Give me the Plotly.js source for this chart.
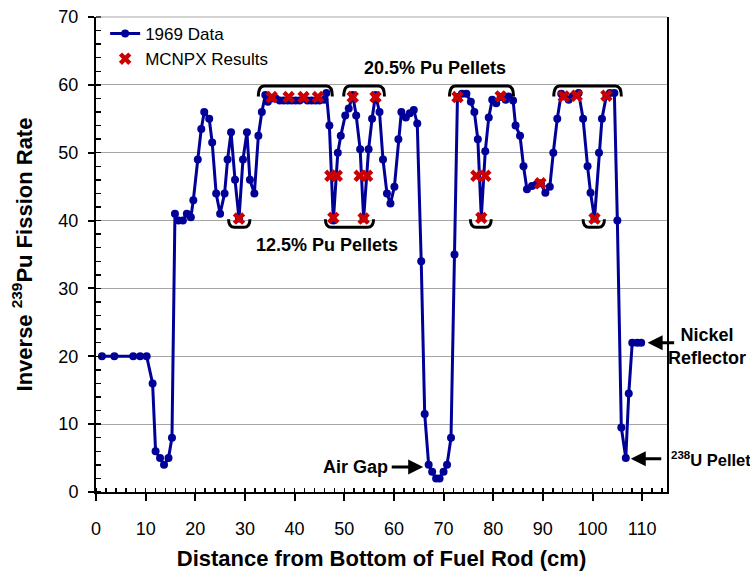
<!DOCTYPE html>
<html>
<head>
<meta charset="utf-8">
<script src="https://cdn.plot.ly/plotly-3.0.1.min.js"></script>
<style>html,body{margin:0;padding:0;background:#fff;}#chart{width:750px;height:573px;}</style>
</head>
<body>
<div id="chart"></div>
<script>
// 1969 measured data: distance (cm) and inverse 239Pu fission rate
const dataX = [1.2,3.7,7.5,8.9,10.2,11.4,12.0,12.9,13.7,14.6,15.3,15.9,16.6,17.5,18.3,19.1,19.6,20.5,21.2,21.8,22.8,23.4,24.2,25.0,25.9,26.5,27.2,28.0,28.8,29.6,30.4,31.0,31.9,32.7,33.4,34.1,34.6,35.4,36.2,37.0,37.8,38.6,39.4,40.2,41.0,41.8,42.6,43.4,44.2,45.0,46.0,46.4,47.0,47.8,48.7,49.3,50.2,50.9,51.7,52.4,53.2,53.9,54.9,55.6,56.3,57.1,57.8,58.6,59.3,60.1,60.9,61.5,62.4,63.2,64.0,64.7,65.5,66.2,67.0,67.7,68.5,69.2,70.0,70.7,71.5,72.2,72.8,73.7,74.6,75.5,76.2,76.9,77.6,78.4,79.1,79.8,80.6,81.5,82.5,83.1,84.0,84.5,85.4,86.1,86.8,87.8,88.7,89.6,90.5,91.4,92.1,92.9,93.7,94.4,95.2,96.0,96.8,97.2,98.1,99.0,99.6,100.4,101.3,101.9,102.8,103.5,104.4,105.0,105.8,106.7,107.3,108.0,109.0,109.8];
const dataY = [20,20,20,20,20,16,6,5,4,5,8,41,40,40,41,40.5,43,49,53.5,56,55,51.5,44,41,44,49,53,46,40.3,49,53,46,44,52.5,56,58.5,57.5,58,58,57.7,57.7,57.7,57.7,57.7,57.7,58,57.7,57.7,57.7,57.7,57.8,58.8,54,40,50,52.5,55.5,56.5,58.5,55.5,50.5,40.3,50.5,55,58.5,56,49,44,42.5,45,52,56,55.2,55.8,56.3,54.3,34,11.5,4,3,2,2,3,4,8,35,58.2,58.7,58.7,57.5,56,52,40.5,50.2,55.2,57.8,57.3,58.2,57.8,58.3,57.7,54,52.5,48,44.6,45.1,45.3,45.5,44.1,45,50,55,58.7,58.3,57.8,58.3,58.5,58.8,55,48,44.1,40.3,50,55,58.4,58.8,58.8,40,9.5,5,14.5,22,22,22];
// MCNPX results
const mcnpxX = [28.8,35.4,38.8,41.8,44.7,47.2,47.8,48.5,51.7,53.1,53.9,54.6,56.3,72.8,76.6,77.6,78.4,81.5,89.5,94.2,96.8,100.4,102.8];
const mcnpxY = [40.3,58.2,58.2,58.2,58.2,46.6,40.4,46.6,58.2,46.6,40.3,46.6,58.2,58.2,46.6,40.4,46.6,58.3,45.5,58.3,58.4,40.3,58.4];
const xTicks = [0,10,20,30,40,50,60,70,80,90,100,110];
const yTicks = [0,10,20,30,40,50,60,70];

const FONT = 'Liberation Sans, Arial, sans-serif';
const navy = '#000099';
const red = '#CC0000';

const traces = [
  {x: dataX, y: dataY, type: 'scatter', mode: 'lines+markers', name: '1969 Data',
   line: {color: navy, width: 3}, marker: {color: navy, size: 8, symbol: 'circle'}},
  {x: mcnpxX, y: mcnpxY, type: 'scatter', mode: 'markers', name: 'MCNPX Results',
   marker: {color: red, size: 11, symbol: 'x'}}
];

function topBracket(x1, x2) {
  const yE = 58.3, yT = 59.85, d = 1.2;
  return {type: 'path', xref: 'x', yref: 'y',
    path: `M ${x1},${yE} Q ${x1},${yT} ${x1 + d},${yT} L ${x2 - d},${yT} Q ${x2},${yT} ${x2},${yE}`,
    line: {color: 'black', width: 3}};
}
function botBracket(x1, x2) {
  const yE = 40.2, yB = 39.0, d = 1.2;
  return {type: 'path', xref: 'x', yref: 'y',
    path: `M ${x1},${yE} Q ${x1},${yB} ${x1 + d},${yB} L ${x2 - d},${yB} Q ${x2},${yB} ${x2},${yE}`,
    line: {color: 'black', width: 3}};
}

const annFont = {family: FONT, size: 18, color: 'black'};
const layout = {
  width: 750, height: 573,
  margin: {l: 96, r: 83, t: 17, b: 81},
  paper_bgcolor: 'white', plot_bgcolor: 'white',
  font: {family: FONT, size: 18, color: 'black'},
  showlegend: true,
  legend: {x: 0.016, y: 1.002, xanchor: 'left', yanchor: 'top', bgcolor: 'rgba(0,0,0,0)',
    font: {family: FONT, size: 17, color: 'black'}, tracegroupgap: 0, itemwidth: 30},
  xaxis: {
    range: [0, 115], tickvals: xTicks, ticktext: xTicks.map(String),
    ticks: 'outside', ticklen: 7, tickwidth: 2, tickcolor: 'black',
    ticklabelstandoff: 12,
    showline: true, linecolor: 'black', linewidth: 2, showgrid: false, zeroline: false,
    minor: {dtick: 2, ticks: 'inside', ticklen: 4, tickwidth: 1.5, tickcolor: 'black', showgrid: false},
    tickfont: {family: FONT, size: 18, color: 'black'},
    title: {text: '<b>Distance from Bottom of Fuel Rod (cm)</b>', font: {family: FONT, size: 22, color: 'black'}, standoff: 13}
  },
  yaxis: {
    range: [0, 70], tickvals: yTicks, ticktext: yTicks.map(String),
    ticks: 'outside', ticklen: 6, tickwidth: 2, tickcolor: 'black',
    ticklabelstandoff: 6,
    showline: true, linecolor: 'black', linewidth: 2, mirror: true,
    showgrid: true, gridcolor: '#a6a6a6', gridwidth: 1, zeroline: false,
    minor: {dtick: 2, ticks: 'inside', ticklen: 5, tickwidth: 1.5, tickcolor: 'black', showgrid: false},
    tickfont: {family: FONT, size: 18, color: 'black'},
    title: {text: '<b>Inverse <sup>239</sup>Pu Fission Rate</b>', font: {family: FONT, size: 22, color: 'black'}, standoff: 20}
  },
  shapes: [
    {type: 'line', xref: 'paper', yref: 'paper', x0: 0, x1: 1, y0: 1, y1: 1, line: {color: '#a6a6a6', width: 1}},
    topBracket(32.7, 47.6), topBracket(49.9, 58.1), topBracket(71.2, 84.1), topBracket(92.2, 105.8),
    botBracket(26.7, 31.0), botBracket(46.2, 55.9), botBracket(75.4, 79.6), botBracket(98.1, 102.4)
  ],
  annotations: [
    {x: 68.2, y: 62.5, xref: 'x', yref: 'y', text: '<b>20.5% Pu Pellets</b>', showarrow: false, font: annFont},
    {x: 46.5, y: 36.4, xref: 'x', yref: 'y', text: '<b>12.5% Pu Pellets</b>', showarrow: false, font: annFont},
    {x: 52.2, y: 3.7, xref: 'x', yref: 'y', text: '<b>Air Gap</b>', showarrow: false, font: annFont},
    {x: 65.9, y: 3.7, xref: 'x', yref: 'y', text: '', showarrow: true, ax: -33, ay: 0,
     arrowhead: 2, arrowsize: 1, arrowwidth: 3, arrowcolor: 'black'},
    {x: 111.1, y: 22.0, xref: 'x', yref: 'y', text: '', showarrow: true, ax: 28, ay: 0,
     arrowhead: 2, arrowsize: 1, arrowwidth: 3, arrowcolor: 'black'},
    {x: 1.07, y: 0.307, xref: 'paper', yref: 'paper', xanchor: 'center', yanchor: 'middle',
     text: '<b>Nickel<br>Reflector</b>', showarrow: false, font: annFont},
    {x: 107.7, y: 4.9, xref: 'x', yref: 'y', text: '', showarrow: true, ax: 32, ay: 0,
     arrowhead: 2, arrowsize: 1, arrowwidth: 3, arrowcolor: 'black'},
    {x: 1.003, y: 0.07, xref: 'paper', yref: 'paper', xanchor: 'left', yanchor: 'middle',
     text: '<b><sup>238</sup>U Pellet</b>', showarrow: false,
     font: {family: FONT, size: 16.5, color: 'black'}}
  ]
};

Plotly.newPlot('chart', traces, layout, {displayModeBar: false, staticPlot: true});
</script>
</body>
</html>
